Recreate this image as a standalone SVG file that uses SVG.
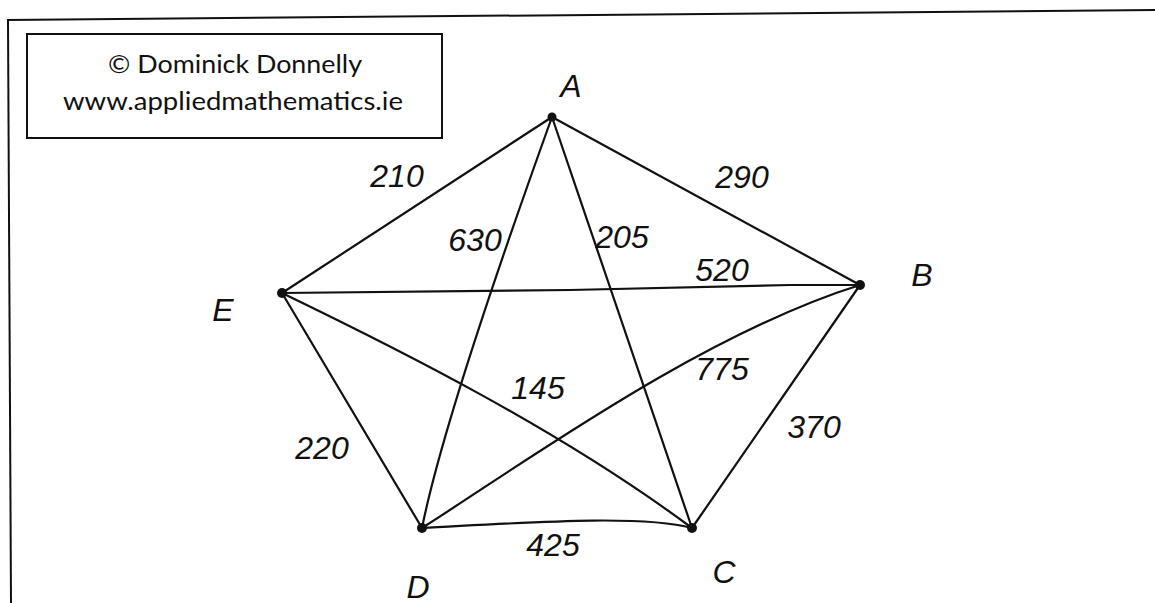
<svg xmlns="http://www.w3.org/2000/svg" width="1155" height="603" viewBox="0 0 1155 603">
<style>
.edge{stroke:#111;stroke-width:2.2;fill:none;stroke-linecap:round}
.dot{fill:#111}
.w{font-family:"Liberation Sans",sans-serif;font-style:italic;font-size:32px;fill:#111;text-anchor:middle;dominant-baseline:central}
.cap{font-family:Lato,"Open Sans",sans-serif;font-size:25px;fill:#111;text-anchor:middle}
</style>
<rect width="1155" height="603" fill="#fff"/>
<g id="frame">
<line x1="7" y1="20" x2="1155" y2="10" stroke="#111" stroke-width="2"/>
<line x1="8" y1="20" x2="11" y2="603" stroke="#111" stroke-width="2"/>
</g>
<g id="copyright">
<rect x="27" y="34" width="415" height="104" fill="#fff" stroke="#111" stroke-width="2"/>
<text class="cap" x="235" y="73" textLength="254" lengthAdjust="spacingAndGlyphs">© Dominick Donnelly</text>
<text class="cap" x="233" y="110" textLength="340" lengthAdjust="spacingAndGlyphs">www.appliedmathematics.ie</text>
</g>
<g id="connectors">
<line class="edge" x1="552" y1="117" x2="860" y2="285"/>
<line class="edge" x1="552" y1="117" x2="282" y2="293"/>
<path class="edge" d="M552,117 Q444.5,415.6 422,528"/>
<line class="edge" x1="552" y1="117" x2="692" y2="528"/>
<path class="edge" d="M282,293 L570,290 L790,285 L860,285" stroke-width="3.2"/>
<line class="edge" x1="282" y1="293" x2="422" y2="528"/>
<path class="edge" d="M282,293 C400,350 560,430 692,528"/>
<path class="edge" d="M422,528 C520,466 700,335 860,285"/>
<line class="edge" x1="860" y1="285" x2="692" y2="528"/>
<path class="edge" d="M422,528 C520,523 640,514 692,528"/>
</g>
<g id="edge-labels">
<text class="w" x="397" y="176">210</text>
<text class="w" x="475" y="240" font-size="26">630</text>
<text class="w" x="622" y="237" font-size="26">205</text>
<text class="w" x="742" y="177">290</text>
<text class="w" x="722" y="270">520</text>
<text class="w" x="538" y="388" font-size="28">145</text>
<text class="w" x="722" y="369" font-size="28">775</text>
<text class="w" x="814" y="427">370</text>
<text class="w" x="322" y="448">220</text>
<text class="w" x="553" y="545">425</text>
</g>
<g id="node-A"><circle class="dot" cx="552" cy="117" r="4.5"/><text class="w" x="571" y="86" font-size="30">A</text></g>
<g id="node-B"><circle class="dot" cx="860" cy="285" r="5"/><text class="w" x="922" y="275" font-size="44">B</text></g>
<g id="node-C"><circle class="dot" cx="692" cy="528" r="5"/><text class="w" x="724" y="572" font-size="34">C</text></g>
<g id="node-D"><circle class="dot" cx="422" cy="528" r="5"/><text class="w" x="418" y="587" font-size="38">D</text></g>
<g id="node-E"><circle class="dot" cx="282" cy="293" r="5"/><text class="w" x="223" y="310" font-size="36">E</text></g>
</svg>
